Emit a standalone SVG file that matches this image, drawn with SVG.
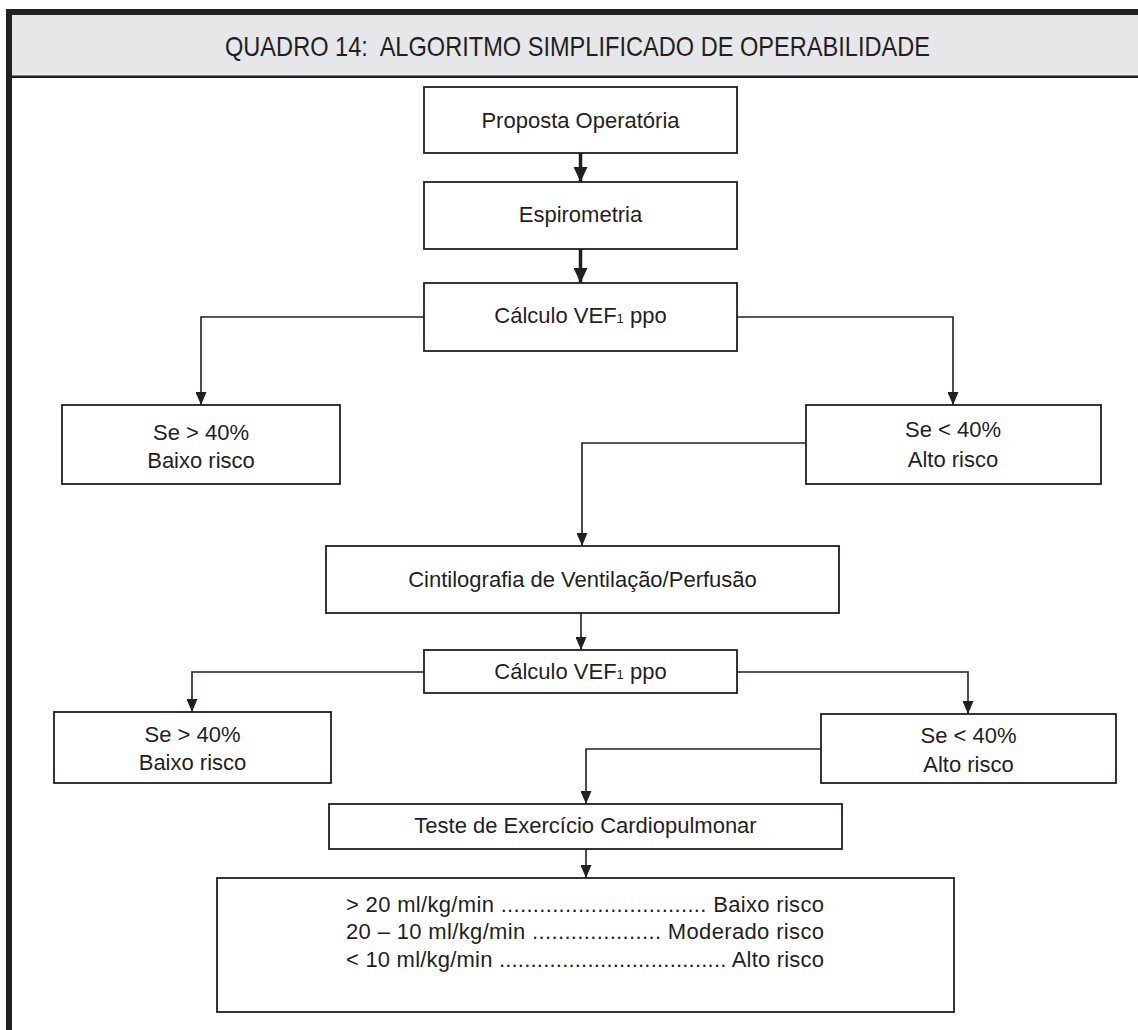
<svg xmlns="http://www.w3.org/2000/svg" width="1138" height="1030" viewBox="0 0 1138 1030">
<style>
.box{fill:#fff;stroke:#231f20;stroke-width:1.8}
.t{font-family:"Liberation Sans",Arial,sans-serif;font-size:22px;fill:#231f20;text-anchor:middle}
.c{fill:none;stroke:#231f20;stroke-width:1.6}
.ct{fill:none;stroke:#231f20;stroke-width:3.5}
.sub{font-size:13px}
</style>
<defs>
<marker id="ah" viewBox="0 0 13 11" refX="13" refY="5.5" markerWidth="13" markerHeight="11" markerUnits="userSpaceOnUse" orient="auto">
<path d="M0,0 L13,5.5 L0,11 z" fill="#231f20"/>
</marker>
<marker id="ahb" viewBox="0 0 15 14" refX="15" refY="7" markerWidth="15" markerHeight="14" markerUnits="userSpaceOnUse" orient="auto">
<path d="M0,0 L15,7 L0,14 z" fill="#231f20"/>
</marker>
</defs>
<rect width="1138" height="1030" fill="#fff"/>
<g id="frame">
<rect x="9" y="12" width="1129" height="64" fill="#e6e7e8"/>
<rect x="6" y="9" width="1132" height="6" fill="#231f20"/>
<rect x="6" y="75.5" width="1132" height="2.5" fill="#231f20"/>
<rect x="6" y="9" width="6" height="1021" fill="#231f20"/>
<text x="225" y="56" textLength="705" lengthAdjust="spacingAndGlyphs" style="font-family:'Liberation Sans',Arial,sans-serif;font-size:28px;fill:#231f20;white-space:pre">QUADRO 14:  ALGORITMO SIMPLIFICADO DE OPERABILIDADE</text>
</g>
<g id="connectors">
<line class="ct" x1="580.5" y1="153" x2="580.5" y2="182" marker-end="url(#ahb)"/>
<line class="ct" x1="580.5" y1="249" x2="580.5" y2="283" marker-end="url(#ahb)"/>
<polyline class="c" points="424,317 201,317 201,405" marker-end="url(#ah)"/>
<polyline class="c" points="737,317 953,317 953,405" marker-end="url(#ah)"/>
<polyline class="c" points="806,443 582,443 582,546" marker-end="url(#ah)"/>
<line class="c" x1="581" y1="613" x2="581" y2="650" marker-end="url(#ah)"/>
<polyline class="c" points="424,672 192,672 192,712" marker-end="url(#ah)"/>
<polyline class="c" points="737,672 968,672 968,714" marker-end="url(#ah)"/>
<polyline class="c" points="821,749 586,749 586,804" marker-end="url(#ah)"/>
<line class="c" x1="586" y1="849" x2="586" y2="878" marker-end="url(#ah)"/>
</g>
<g id="n_proposta">
<rect class="box" x="424" y="87" width="313" height="66"/>
<text class="t" x="580.5" y="128">Proposta Operatória</text>
</g>
<g id="n_espirometria">
<rect class="box" x="424" y="182" width="313" height="67"/>
<text class="t" x="580.5" y="222">Espirometria</text>
</g>
<g id="n_calculo1">
<rect class="box" x="424" y="283" width="313" height="68"/>
<text class="t" x="580.5" y="323">Cálculo VEF<tspan class="sub">1</tspan> ppo</text>
</g>
<g id="n_baixo1">
<rect class="box" x="62" y="405" width="278" height="79"/>
<text class="t" x="201" y="440">Se &gt; 40%</text>
<text class="t" x="201" y="468">Baixo risco</text>
</g>
<g id="n_alto1">
<rect class="box" x="806" y="405" width="295" height="79"/>
<text class="t" x="953" y="437">Se &lt; 40%</text>
<text class="t" x="953" y="467">Alto risco</text>
</g>
<g id="n_cintilografia">
<rect class="box" x="326" y="546" width="513" height="67"/>
<text class="t" x="582.5" y="587">Cintilografia de Ventilação/Perfusão</text>
</g>
<g id="n_calculo2">
<rect class="box" x="424" y="650" width="313" height="43"/>
<text class="t" x="580.5" y="679">Cálculo VEF<tspan class="sub">1</tspan> ppo</text>
</g>
<g id="n_baixo2">
<rect class="box" x="54" y="712" width="277" height="71"/>
<text class="t" x="192.5" y="742">Se &gt; 40%</text>
<text class="t" x="192.5" y="770">Baixo risco</text>
</g>
<g id="n_alto2">
<rect class="box" x="821" y="714" width="295" height="69"/>
<text class="t" x="968.5" y="743">Se &lt; 40%</text>
<text class="t" x="968.5" y="772">Alto risco</text>
</g>
<g id="n_teste">
<rect class="box" x="329" y="804" width="513" height="45"/>
<text class="t" x="585.5" y="833">Teste de Exercício Cardiopulmonar</text>
</g>
<g id="n_resultado">
<rect class="box" x="217" y="878" width="737" height="134"/>
<text class="t" x="585" y="912" textLength="478" lengthAdjust="spacing">&gt; 20 ml/kg/min ................................ Baixo risco</text>
<text class="t" x="585" y="939" textLength="478" lengthAdjust="spacing">20 – 10 ml/kg/min .................... Moderado risco</text>
<text class="t" x="585" y="967" textLength="478" lengthAdjust="spacing">&lt; 10 ml/kg/min .................................... Alto risco</text>
</g>
</svg>
